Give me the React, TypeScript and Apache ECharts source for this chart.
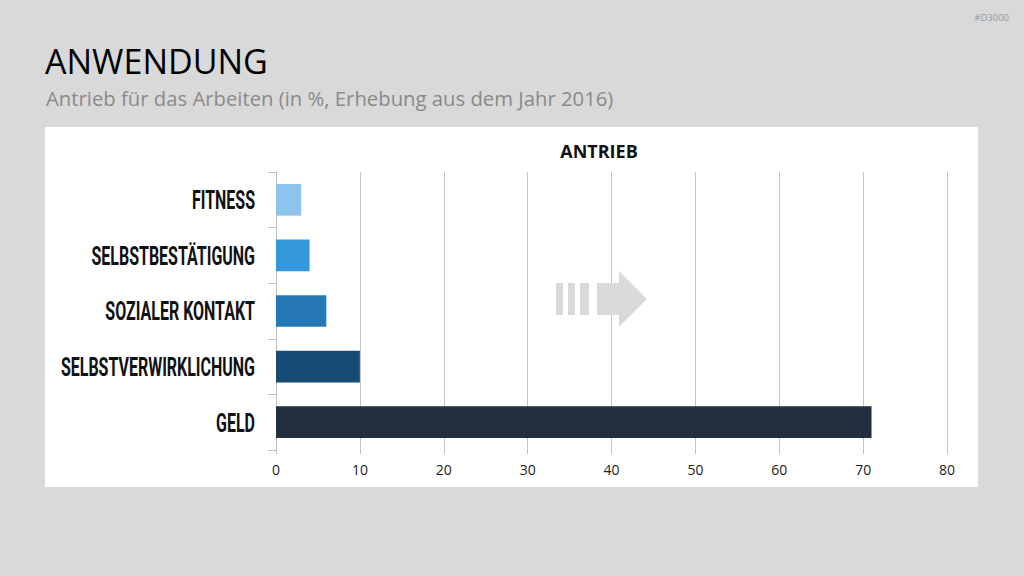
import React, { useEffect, useRef } from "react";
import * as echarts from "echarts";

const categories = ["FITNESS", "SELBSTBESTÄTIGUNG", "SOZIALER KONTAKT", "SELBSTVERWIRKLICHUNG", "GELD"];
const values = [3, 4, 6, 10, 71];
const barColors = ["#8cc4ec", "#3498dc", "#2577b6", "#174b73", "#222f3e"];
const xTicks = [0, 10, 20, 30, 40, 50, 60, 70, 80];

const heading = "ANWENDUNG";
const subheading = "Antrieb für das Arbeiten (in %, Erhebung aus dem Jahr 2016)";
const chartTitle = "ANTRIEB";
const tag = "#D3000";

const sansFont = "'Open Sans', 'Noto Sans', sans-serif";
const labelFont = "Roboto, 'Noto Sans', sans-serif";

export default function App() {
  const ref = useRef<HTMLDivElement>(null);

  useEffect(() => {
    if (!ref.current) return;
    const chart = echarts.init(ref.current, undefined, { renderer: "svg" });
    const arrowColor = "#d9d9d9";
    const arrow = [
      { type: "rect", z: 10, shape: { x: 556, y: 283, width: 7, height: 32 }, style: { fill: arrowColor } },
      { type: "rect", z: 10, shape: { x: 568, y: 283, width: 7, height: 32 }, style: { fill: arrowColor } },
      { type: "rect", z: 10, shape: { x: 580, y: 283, width: 9, height: 32 }, style: { fill: arrowColor } },
      {
        type: "polygon",
        z: 10,
        shape: {
          points: [
            [597, 283],
            [619, 283],
            [619, 271],
            [647, 299],
            [619, 327],
            [619, 315],
            [597, 315],
          ],
        },
        style: { fill: arrowColor },
      },
    ];
    chart.setOption({
      animation: false,
      backgroundColor: "transparent",
      title: [
        {
          text: heading,
          left: 40,
          top: 39,
          textStyle: { fontFamily: sansFont, fontSize: 34, fontWeight: "normal", color: "#000" },
        },
        {
          text: subheading,
          left: 41,
          top: 83,
          textStyle: { fontFamily: sansFont, fontSize: 20.3, fontWeight: "normal", color: "#8a8a8a" },
        },
        {
          text: chartTitle,
          left: 594,
          textAlign: "center",
          top: 137,
          textStyle: { fontFamily: sansFont, fontSize: 18, fontWeight: "bold", color: "#111" },
        },
        {
          text: tag,
          right: 10,
          top: 7,
          textStyle: { fontFamily: sansFont, fontSize: 9.5, fontWeight: "normal", color: "#9a9a9a" },
        },
      ],
      grid: { left: 276, right: 77, top: 172, bottom: 126, outerBoundsMode: "none", containLabel: false },
      xAxis: {
        type: "value",
        min: 0,
        max: 80,
        interval: 10,
        axisLine: { show: false },
        axisTick: { show: true, length: 4, lineStyle: { color: "#bfbfbf" } },
        splitLine: { show: true, lineStyle: { color: "#c6c6c6", width: 1 } },
        axisLabel: {
          fontFamily: sansFont,
          fontSize: 14,
          color: "#222",
          margin: 12,
          formatter: (v: number) => (xTicks.includes(v) ? String(v) : ""),
        },
      },
      yAxis: {
        type: "category",
        data: categories,
        inverse: true,
        axisLine: { show: true, lineStyle: { color: "#bfbfbf" } },
        axisTick: { show: true, length: 8, lineStyle: { color: "#bfbfbf" } },
        axisLabel: { show: false },
      },
      series: [
        {
          type: "bar",
          data: values.map((v, i) => ({ value: v, itemStyle: { color: barColors[i] } })),
          barWidth: "57%",
          z: 3,
        },
      ],
      graphic: arrow,
    });

    // Condensed category labels, placed from the axis scales
    const x0 = chart.convertToPixel({ xAxisIndex: 0 }, 0) as number;
    const labels = categories.map((name, i) => {
      const y = chart.convertToPixel({ yAxisIndex: 0 }, i) as number;
      return {
        type: "text",
        z: 10,
        x: x0 - 21,
        y: y + 1,
        scaleX: 0.64,
        style: {
          text: name,
          x: 0,
          y: 0,
          align: "right",
          verticalAlign: "middle",
          fontFamily: labelFont,
          fontWeight: "bold",
          fontSize: 25,
          fill: "#111",
        },
      };
    });
    chart.setOption({ graphic: [...arrow, ...labels] });

    return () => chart.dispose();
  }, []);

  return (
    <div style={{ position: "absolute", left: 0, top: 0, width: 1024, height: 576, background: "#d9d9d9" }}>
      <div style={{ position: "absolute", left: 45, top: 127, width: 933, height: 360, background: "#ffffff" }} />
      <div ref={ref} style={{ position: "absolute", left: 0, top: 0, width: 1024, height: 576 }} />
    </div>
  );
}
